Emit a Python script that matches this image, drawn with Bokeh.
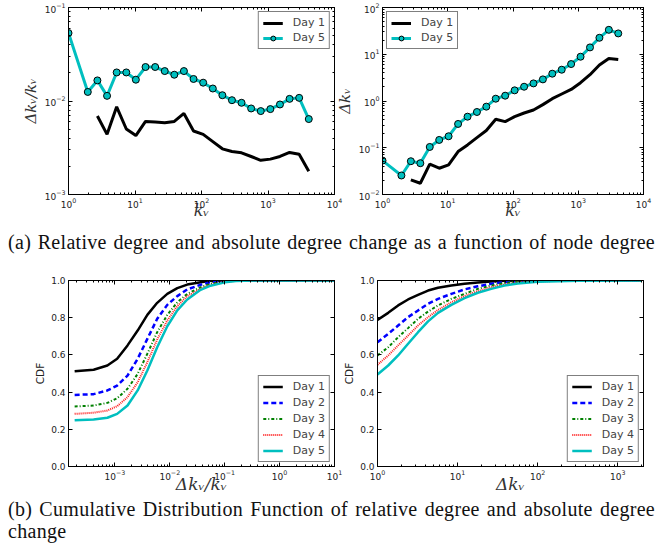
from bokeh.plotting import figure
from bokeh.models import (Range1d, FixedTicker, LogAxis, LinearAxis, Legend, LegendItem,
                          Div, PrintfTickFormatter, CustomJSTickFormatter, LogScale, LinearScale)
from bokeh.layouts import row, column
from bokeh.embed import file_html
from bokeh.resources import INLINE

# ---------------- data ----------------
# node degree bins (top panels)
deg_bins = [1.0, 1.95, 2.72, 3.8, 5.3, 7.4, 10.3, 14.4, 20.1, 28.0, 39.0, 54.4, 75.9,
            106, 148, 206, 287, 400, 558, 778, 1085, 1513, 2110, 2942, 4103]
deg_bins_day1 = deg_bins[2:]

rel_day5 = [0.0533, 0.0125, 0.0166, 0.01135, 0.0202, 0.0202, 0.0169, 0.0231, 0.0231, 0.0209,
            0.0191, 0.0209, 0.0172, 0.0157, 0.0136, 0.01153, 0.0102, 0.00957, 0.00832, 0.0078,
            0.00819, 0.00918, 0.01054, 0.0108, 0.00641]
rel_day1 = [0.0069, 0.0044, 0.00867, 0.00502, 0.00427, 0.00605, 0.00596, 0.00586, 0.00605,
            0.00736, 0.00478, 0.0044, 0.00368, 0.00308, 0.00288, 0.00279, 0.00255, 0.00232,
            0.00239, 0.00255, 0.00282, 0.0027, 0.00177]

abs_day5 = [0.0532, 0.0255, 0.0515, 0.0467, 0.104, 0.147, 0.176, 0.323, 0.462, 0.582, 0.757,
            1.12, 1.30, 1.69, 2.02, 2.38, 2.90, 3.84, 4.67, 6.17, 8.85, 14.0, 22.5, 33.3, 27.9]
abs_day1 = [0.0206, 0.0174, 0.0445, 0.0365, 0.043, 0.0828, 0.115, 0.165, 0.233, 0.406, 0.362,
            0.463, 0.554, 0.643, 0.836, 1.12, 1.41, 1.77, 2.46, 3.65, 5.87, 8.15, 7.76]

# CDF of relative degree change
rel_cdf_x = [1.85e-4, 4.1e-4, 7.3e-4, 1.1e-3, 1.7e-3, 2.6e-3, 3.9e-3, 5.9e-3, 9.0e-3,
             1.37e-2, 2.08e-2, 3.64e-2, 5.53e-2, 0.1, 0.16, 0.32, 10.0]
rel_cdf = {
    "Day 1": [0.512, 0.520, 0.543, 0.579, 0.651, 0.731, 0.815, 0.880, 0.928, 0.959, 0.978, 0.991, 0.998, 1.0, 1.0, 1.0, 1.0],
    "Day 2": [0.385, 0.389, 0.409, 0.435, 0.489, 0.579, 0.686, 0.794, 0.869, 0.916, 0.952, 0.977, 0.991, 0.998, 1.0, 1.0, 1.0],
    "Day 3": [0.323, 0.328, 0.342, 0.367, 0.418, 0.498, 0.606, 0.722, 0.815, 0.883, 0.928, 0.964, 0.982, 0.995, 0.999, 1.0, 1.0],
    "Day 4": [0.283, 0.289, 0.301, 0.324, 0.373, 0.453, 0.561, 0.683, 0.785, 0.862, 0.916, 0.955, 0.977, 0.993, 0.998, 1.0, 1.0],
    "Day 5": [0.249, 0.253, 0.262, 0.283, 0.328, 0.409, 0.516, 0.641, 0.754, 0.839, 0.898, 0.950, 0.972, 0.990, 0.997, 1.0, 1.0],
}

# CDF of absolute degree change
abs_cdf_x = [1.0, 1.36, 1.81, 2.41, 3.21, 4.28, 5.70, 8.36, 12.2, 17.9, 26.3, 38.5, 56.5, 100, 316, 2000]
abs_cdf = {
    "Day 1": [0.788, 0.826, 0.866, 0.898, 0.923, 0.946, 0.961, 0.973, 0.982, 0.989, 0.995, 0.998, 1.0, 1.0, 1.0, 1.0],
    "Day 2": [0.668, 0.713, 0.758, 0.803, 0.839, 0.875, 0.901, 0.928, 0.952, 0.969, 0.982, 0.991, 0.996, 0.999, 1.0, 1.0],
    "Day 3": [0.597, 0.641, 0.695, 0.744, 0.794, 0.833, 0.866, 0.901, 0.928, 0.955, 0.973, 0.986, 0.993, 0.997, 1.0, 1.0],
    "Day 4": [0.547, 0.597, 0.651, 0.704, 0.758, 0.803, 0.842, 0.883, 0.916, 0.943, 0.964, 0.978, 0.989, 0.995, 1.0, 1.0],
    "Day 5": [0.495, 0.543, 0.597, 0.660, 0.722, 0.780, 0.826, 0.869, 0.905, 0.934, 0.955, 0.973, 0.984, 0.993, 0.999, 1.0],
}

cdf_ticks = [0.0, 0.2, 0.4, 0.6, 0.8, 1.0]
caption_a = "(a) Relative degree and absolute degree change as a function of node degree"
caption_b1 = "(b) Cumulative Distribution Function of relative degree and absolute degree"
caption_b2 = "change"

# ---------------- styles ----------------
CYAN = "#00BFBF"
day_styles = {
    "Day 1": dict(line_color="black", line_width=2.5),
    "Day 2": dict(line_color="#0000FF", line_width=2.5, line_dash="5 3"),
    "Day 3": dict(line_color="#008000", line_width=2, line_dash="3 2 1 2"),
    "Day 4": dict(line_color="#FF2020", line_width=2, line_dash="1 1"),
    "Day 5": dict(line_color=CYAN, line_width=2.5),
}
MATH_FONT = "DejaVu Serif"
TICK_FONT = "DejaVu Sans"


def log_ticker(lo, hi):
    major = [10.0 ** e for e in range(lo, hi + 1)]
    minor = [m * 10.0 ** e for e in range(lo - 1, hi + 1) for m in range(2, 10)]
    return FixedTicker(ticks=major, minor_ticks=minor)


def style_axis(ax, show_labels=True):
    ax.axis_line_color = "black"
    ax.major_tick_line_color = "black"
    ax.minor_tick_line_color = "black"
    ax.major_tick_in = 4
    ax.major_tick_out = 0
    ax.minor_tick_in = 2
    ax.minor_tick_out = 0
    ax.major_label_text_font = TICK_FONT
    ax.major_label_text_font_size = "9px"
    ax.major_label_text_color = "#222222"
    ax.major_label_standoff = 3
    if not show_labels:
        ax.formatter = CustomJSTickFormatter(code="return ''")
        ax.major_label_standoff = 0
        ax.major_label_text_font_size = "0px"


def make_fig(width, height, xr, yr, ylog, bl, br, bt, bb, xt, yt, yfmt=None):
    p = figure(width=width, height=height, x_axis_type=None, y_axis_type=None,
               x_range=Range1d(*xr), y_range=Range1d(*yr),
               output_backend="svg", toolbar_location=None,
               min_border_left=bl, min_border_right=br, min_border_top=bt, min_border_bottom=bb)
    p.x_scale = LogScale()
    p.y_scale = LogScale() if ylog else LinearScale()
    p.grid.visible = False
    p.outline_line_color = "black"
    p.outline_line_width = 1
    p.border_fill_color = None

    bottom = LogAxis(ticker=xt)
    style_axis(bottom)
    left = LogAxis(ticker=yt) if ylog else LinearAxis(ticker=yt)
    if yfmt is not None:
        left.formatter = yfmt
    style_axis(left)
    if not ylog:
        left.minor_tick_line_color = None
    top = LogAxis(ticker=xt)
    style_axis(top, show_labels=False)
    right = LogAxis(ticker=yt) if ylog else LinearAxis(ticker=yt)
    style_axis(right, show_labels=False)
    if not ylog:
        right.minor_tick_line_color = None
    p.add_layout(bottom, "below")
    p.add_layout(left, "left")
    p.add_layout(top, "above")
    p.add_layout(right, "right")
    return p, bottom, left


def label_axis(ax, text, size, italic=True, font=MATH_FONT, standoff=2):
    ax.axis_label = text
    ax.axis_label_text_font = font
    ax.axis_label_text_font_size = size
    ax.axis_label_text_font_style = "italic" if italic else "normal"
    ax.axis_label_text_color = "#333333"
    ax.axis_label_standoff = standoff


def style_legend(leg, loc, rows):
    leg.location = loc
    leg.border_line_color = "black"
    leg.border_line_width = 1
    leg.background_fill_alpha = 1.0
    leg.label_text_font = TICK_FONT
    leg.label_text_font_size = "11px"
    leg.glyph_width = 20
    leg.glyph_height = 12 if rows == 2 else 13
    leg.label_height = 12 if rows == 2 else 13
    leg.spacing = 2 if rows == 2 else 3
    leg.padding = 4
    leg.margin = 4
    leg.label_standoff = 10


TOP_H = 224
BOT_H = 236
LEFT_W = 346
RIGHT_W = 330
OVERLAP = -14

# ---------------- (a) left: relative change ----------------
p1, b1, l1 = make_fig(LEFT_W, TOP_H, (1, 1e4), (1e-3, 1e-1), True, 68, 12, 7, 30,
                      log_ticker(0, 4), log_ticker(-3, -1))
r1 = p1.line(deg_bins_day1, rel_day1, line_color="black", line_width=3)
r5 = p1.line(deg_bins, rel_day5, line_color=CYAN, line_width=3)
r5m = p1.scatter(deg_bins, rel_day5, size=7, fill_color=CYAN, line_color="black", line_width=1)
label_axis(b1, "kᵥ", "16px", standoff=-10)
label_axis(l1, "Δkᵥ/kᵥ", "15px")
leg1 = Legend(items=[LegendItem(label="Day 1", renderers=[r1]),
                     LegendItem(label="Day 5", renderers=[r5, r5m])])
style_legend(leg1, "top_right", 2)
p1.add_layout(leg1)

# ---------------- (a) right: absolute change ----------------
p2, b2, l2 = make_fig(RIGHT_W, TOP_H, (1, 1e4), (1e-2, 1e2), True, 45, 19, 7, 30,
                      log_ticker(0, 4), log_ticker(-2, 2))
p2.margin = (0, 0, 0, OVERLAP)
q1 = p2.line(deg_bins_day1, abs_day1, line_color="black", line_width=3)
q5 = p2.line(deg_bins, abs_day5, line_color=CYAN, line_width=3)
q5m = p2.scatter(deg_bins, abs_day5, size=7, fill_color=CYAN, line_color="black", line_width=1)
label_axis(b2, "kᵥ", "16px", standoff=-10)
label_axis(l2, "Δkᵥ", "15px")
leg2 = Legend(items=[LegendItem(label="Day 1", renderers=[q1]),
                     LegendItem(label="Day 5", renderers=[q5, q5m])])
style_legend(leg2, "top_left", 2)
p2.add_layout(leg2)

# ---------------- (b) left: CDF relative ----------------
p3, b3, l3 = make_fig(LEFT_W, BOT_H, (1.43e-4, 10), (0, 1), False, 68, 12, 20, 30,
                      log_ticker(-3, 1), FixedTicker(ticks=cdf_ticks, minor_ticks=[]),
                      PrintfTickFormatter(format="%.1f"))
items3 = []
for name, vals in rel_cdf.items():
    r = p3.line(rel_cdf_x, vals, **day_styles[name])
    items3.append(LegendItem(label=name, renderers=[r]))
label_axis(b3, "Δkᵥ/kᵥ", "17px", standoff=-9)
label_axis(l3, "CDF", "10.5px", italic=False, font=TICK_FONT)
l3.axis_label_text_color = "#222222"
leg3 = Legend(items=items3)
style_legend(leg3, "bottom_right", 5)
p3.add_layout(leg3)

# ---------------- (b) right: CDF absolute ----------------
p4, b4, l4 = make_fig(RIGHT_W, BOT_H, (1, 2100), (0, 1), False, 45, 19, 20, 30,
                      log_ticker(0, 3), FixedTicker(ticks=cdf_ticks, minor_ticks=[]),
                      PrintfTickFormatter(format="%.1f"))
p4.margin = (0, 0, 0, OVERLAP)
items4 = []
for name, vals in abs_cdf.items():
    r = p4.line(abs_cdf_x, vals, **day_styles[name])
    items4.append(LegendItem(label=name, renderers=[r]))
label_axis(b4, "Δkᵥ", "17px", standoff=-9)
label_axis(l4, "CDF", "10.5px", italic=False, font=TICK_FONT)
l4.axis_label_text_color = "#222222"
leg4 = Legend(items=items4)
style_legend(leg4, "bottom_right", 5)
p4.add_layout(leg4)

# ---------------- captions ----------------
CAP_STYLE = ("font-family:'Liberation Serif','Times New Roman',serif;font-size:20px;"
             "letter-spacing:0.3px;color:#111;text-align:justify;text-align-last:justify;width:647px;")
cap_a = Div(text=f'<div style="{CAP_STYLE}line-height:36px;">{caption_a}</div>',
            width=647, height=36, margin=(0, 0, 0, 8))
cap_b = Div(text=(f'<div style="{CAP_STYLE}line-height:22px;padding-top:2px;">{caption_b1}</div>'
                  f'<div style="font-family:\'Liberation Serif\',serif;font-size:20px;color:#111;'
                  f'letter-spacing:0.3px;line-height:22px;">{caption_b2}</div>'),
            width=647, height=58, margin=(0, 0, 0, 8))

layout = column(row(p1, p2), cap_a, row(p3, p4), cap_b)

open("out.html", "w").write(file_html(layout, INLINE))
